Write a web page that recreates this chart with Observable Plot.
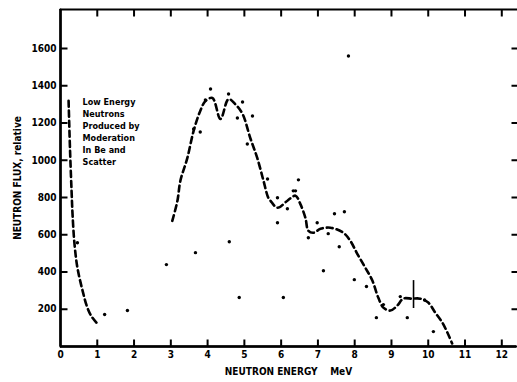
<!DOCTYPE html>
<html>
<head>
<meta charset="utf-8">
<script src="https://cdn.jsdelivr.net/npm/d3@7"></script>
<script src="https://cdn.jsdelivr.net/npm/@observablehq/plot@0.6"></script>
<style>
  html, body { margin: 0; padding: 0; background: #fff; overflow: hidden; }
</style>
</head>
<body>
<div id="chart"></div>
<script>
// ---- data ----
const xTicks = [0, 1, 2, 3, 4, 5, 6, 7, 8, 9, 10, 11, 12];
const yTicks = [200, 400, 600, 800, 1000, 1200, 1400, 1600];

// low-energy dashed curve (MeV, relative flux)
const lowX = [0.22, 0.26, 0.30, 0.33, 0.38, 0.46, 0.60, 0.73, 0.85, 1.00];
const lowY = [1320, 1050, 840, 700, 552, 423, 300, 209, 160, 123];

// main dashed curve
const mainX = [3.04, 3.18, 3.26, 3.45, 3.62, 3.80, 3.94, 4.13, 4.35, 4.57, 4.75, 4.95, 5.16, 5.35, 5.52, 5.65, 5.71, 5.90, 6.17, 6.39, 6.52, 6.66, 6.74, 6.88, 7.07, 7.34, 7.69, 7.88, 8.07, 8.29, 8.48, 8.64, 8.78, 8.97, 9.16, 9.32, 9.56, 9.78, 10.00, 10.19, 10.38, 10.52, 10.65];
const mainY = [675, 783, 890, 1013, 1158, 1265, 1318, 1335, 1222, 1329, 1302, 1249, 1120, 1013, 890, 799, 783, 745, 783, 810, 766, 691, 622, 611, 632, 638, 611, 568, 498, 423, 354, 263, 209, 193, 220, 257, 257, 257, 236, 182, 129, 75, 16];

// measured points
const ptX = [4.08, 3.94, 4.57, 4.95, 4.81, 5.22, 3.80, 3.62, 5.08, 5.63, 6.47, 6.33, 7.83, 5.90, 6.17, 5.90, 6.39, 6.98, 6.74, 7.28, 7.45, 7.72, 7.58, 7.15, 7.99, 8.32, 8.59, 3.67, 4.59, 4.86, 6.06, 2.88, 1.20, 1.82, 9.24, 9.43, 10.14, 0.46, 8.78, 9.90];
const ptY = [1383, 1324, 1356, 1313, 1227, 1238, 1152, 1168, 1088, 900, 895, 836, 1560, 799, 740, 665, 836, 665, 584, 606, 713, 724, 536, 407, 359, 322, 155, 504, 563, 263, 263, 440, 172, 193, 268, 155, 80, 557, 225, 250];

// error bar at 9.6 MeV
const errX = [9.6];
const errLo = [204];
const errHi = [354];

const noteLines = ["Low Energy", "Neutrons", "Produced by", "Moderation", "In Be and", "Scatter"];
const xLabel = "NEUTRON ENERGY    MeV";
const yLabel = "NEUTRON FLUX, relative";

// ---- tables built from the arrays ----
const low = lowX.map((x, i) => ({x, y: lowY[i]}));
const main = mainX.map((x, i) => ({x, y: mainY[i]}));
const pts = ptX.map((x, i) => ({x, y: ptY[i]}));
const errs = errX.map((x, i) => ({x, y1: errLo[i], y2: errHi[i]}));

const W = 517, H = 382, mT = 9, mB = 36, mL = 60, mR = 1;
const plotW = W - mL - mR, plotH = H - mT - mB;
const xMax = 12.4, yMax = 1810;
// inward tick lengths expressed in data units
const tyLen = 7 / plotH * yMax;
const txLen = 7 / plotW * xMax;
const trLen = 5 / plotW * xMax;
const xOff = xMax + 6 / plotW * xMax; // just beyond the right edge of the picture
const fmt = d3.format("d");
const inner = xTicks.filter(d => d > 0);

// axis lines with their inward ticks, each as one continuous path
const bottomPath = [{x: 0, y: 0}, ...inner.flatMap(x => [{x, y: 0}, {x, y: tyLen}, {x, y: 0}]), {x: xMax, y: 0}];
const topPath = [{x: 0, y: yMax}, ...inner.flatMap(x => [{x, y: yMax}, {x, y: yMax - tyLen}, {x, y: yMax}]), {x: xMax, y: yMax}];
const leftPath = [{x: 0, y: 0}, ...yTicks.flatMap(y => [{x: 0, y}, {x: txLen, y}, {x: 0, y}]), {x: 0, y: yMax}];
const rightPath = [{x: xOff, y: 0}, ...yTicks.flatMap(y => [{x: xOff, y}, {x: xMax - trLen, y}, {x: xOff, y}]), {x: xOff, y: yMax}];

const axisLine = {x: "x", y: "y", stroke: "black", strokeWidth: 2, curve: "linear", strokeLinejoin: "miter"};

const chart = Plot.plot({
  width: W, height: H,
  marginTop: mT, marginBottom: mB, marginLeft: mL, marginRight: mR,
  x: {domain: [0, xMax]},
  y: {domain: [0, yMax]},
  style: {
    fontFamily: "'DejaVu Sans Condensed', 'DejaVu Sans', sans-serif",
    fontWeight: "bold", fontSize: "10px", color: "black", background: "white"
  },
  marks: [
    // frame with inward ticks
    Plot.line(bottomPath, axisLine),
    Plot.line(topPath, axisLine),
    Plot.line(leftPath, axisLine),
    Plot.line(rightPath, axisLine),
    Plot.ruleY([0], {stroke: "black", strokeWidth: 2.5}),
    Plot.ruleX([0], {stroke: "black", strokeWidth: 2.5}),
    // tick labels and axis titles
    Plot.axisX({anchor: "bottom", ticks: xTicks, tickSize: 0, tickPadding: 4, tickFormat: fmt, label: xLabel, labelAnchor: "center", labelOffset: 28, labelArrow: "none"}),
    Plot.axisY({anchor: "left", ticks: yTicks, tickSize: 0, tickPadding: 4, tickFormat: fmt, label: yLabel, labelAnchor: "center", labelOffset: 47, labelArrow: "none"}),
    // dashed curves
    Plot.line(low, {x: "x", y: "y", stroke: "black", strokeWidth: 2.6, strokeDasharray: "6,4", curve: "catmull-rom"}),
    Plot.line(main, {x: "x", y: "y", stroke: "black", strokeWidth: 2.6, strokeDasharray: "6,4", curve: "catmull-rom"}),
    // error bar and measured points
    Plot.ruleX(errs, {x: "x", y1: "y1", y2: "y2", stroke: "black", strokeWidth: 1.6}),
    Plot.dot(pts, {x: "x", y: "y", r: 1.7, fill: "black", stroke: "none"}),
    // annotation
    Plot.text([noteLines.join("\n")], {x: 0.6, y: 1345, text: d => d, textAnchor: "start", lineAnchor: "top", lineHeight: 1.35, fontSize: 9, fontWeight: "bold", fill: "black"})
  ]
});

document.getElementById("chart").appendChild(chart);
</script>
</body>
</html>
